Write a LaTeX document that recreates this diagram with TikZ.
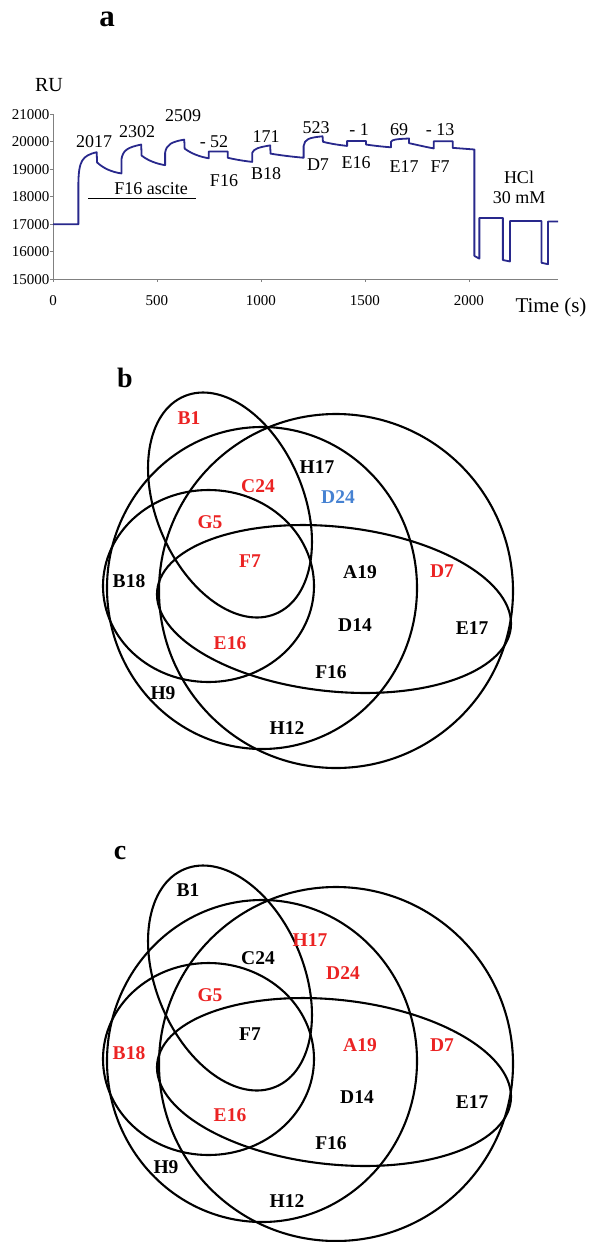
\documentclass[tikz,border=0pt]{standalone}
\usepackage{fontspec}
\setmainfont{Liberation Serif}
\usepackage{xcolor}
\definecolor{axisgray}{RGB}{128,128,128}
\definecolor{tracenavy}{RGB}{40,40,140}
\definecolor{vred}{RGB}{235,35,35}
\definecolor{vblue}{RGB}{70,130,210}

\begin{document}
\begin{tikzpicture}[x=1pt,y=-1pt,
  axis/.style={draw=axisgray,line width=0.8pt},
  trace/.style={draw=tracenavy,line width=1.8pt,line join=round},
  num/.style={font=\fontsize{18}{20}\selectfont,inner sep=0pt},
  tick/.style={font=\fontsize{15}{17}\selectfont,inner sep=0pt},
  venn/.style={draw,line width=2.1pt},
  vlab/.style={font=\bfseries\fontsize{19.5}{21}\selectfont,inner sep=0pt},
  panel/.style={font=\bfseries\fontsize{28}{30}\selectfont,inner sep=0pt}
]
  \useasboundingbox (0,0) rectangle (592,1242);

  % panel a: sensorgram
  \node[panel,font=\bfseries\fontsize{31}{33}\selectfont] (pa) at (107,19) {a};
  \node[font=\fontsize{20}{22}\selectfont,inner sep=0pt] (ru) at (49,85) {RU};
  \node[font=\fontsize{21}{23}\selectfont,inner sep=0pt] (time) at (551,307) {Time (s)};

  \begin{scope}[shift={(53,279.3)},x=0.208pt,y=27.5pt,shift={(0,-15)}]
    \draw[axis] (0,21) -- (0,15) -- (2430,15);
    \foreach \v in {15,...,21} {
      \draw[axis] (0,\v) -- ++(-3pt,0);
      \node[tick,anchor=east,xshift=-3.5pt] (yl\v) at (0,\v) {\v000};
    }
    \foreach \t in {0,500,...,2000} {
      \draw[axis] (\t,15) -- ++(0,-3pt);
      \node[tick,yshift=-21pt] (xl\t) at (\t,15) {\t};
    }
    \draw[trace] (0,17) -- (122,17) -- (122,18.5)
      .. controls (124,19.3) and (140,19.5) .. (210,19.62) -- (212,19.25)
      .. controls (240,19.05) and (280,18.9) .. (329,18.85)
      -- (329,19.35) .. controls (335,19.7) and (360,19.8) .. (424,19.9) -- (426,19.5)
      .. controls (460,19.3) and (500,19.2) .. (539,19.15)
      -- (539,19.6) .. controls (545,19.9) and (570,20.0) .. (631,20.08) -- (633,19.75)
      .. controls (670,19.55) and (710,19.45) .. (749,19.4)
      -- (749,19.65) -- (840,19.65) -- (840,19.42)
      .. controls (880,19.35) and (920,19.3) .. (958,19.27)
      -- (958,19.6) .. controls (965,19.75) and (990,19.8) .. (1044,19.87) -- (1046,19.57)
      .. controls (1100,19.5) and (1160,19.45) .. (1205,19.42)
      -- (1205,19.85) .. controls (1210,20.1) and (1230,20.15) .. (1296,20.2) -- (1298,20.0)
      .. controls (1340,19.92) and (1380,19.88) .. (1414,19.85)
      -- (1414,20.03) -- (1505,20.03) -- (1505,19.9)
      .. controls (1550,19.85) and (1590,19.82) .. (1625,19.8)
      -- (1625,20.0) .. controls (1630,20.08) and (1650,20.1) .. (1712,20.12) -- (1712,19.95)
      .. controls (1760,19.87) and (1800,19.8) .. (1831,19.76)
      -- (1831,20.02) -- (1922,20.02) -- (1922,19.78) -- (2026,19.72)
      -- (2026,15.85) -- (2050,15.75) -- (2050,17.23) -- (2163,17.23)
      -- (2163,15.7) -- (2197,15.65) -- (2197,17.12) -- (2349,17.12)
      -- (2349,15.6) -- (2380,15.55) -- (2380,17.1) -- (2428,17.1);
  \end{scope}

  \node[num] (n2017) at (94,142) {2017};
  \node[num] (n2302) at (137,132) {2302};
  \node[num] (n2509) at (183,116) {2509};
  \node[num] (n52) at (214,142) {- 52};
  \node[num] (n171) at (266,137) {171};
  \node[num] (n523) at (316,128) {523};
  \node[num] (n1) at (359,130) {- 1};
  \node[num] (n69) at (399,130) {69};
  \node[num] (n13) at (440,130) {- 13};

  \node[num] (ascite) at (151,189) {F16 ascite};
  \coordinate (asc-l) at (88,198);
  \coordinate (asc-r) at (196,198);
  \draw[line width=1pt] (asc-l) -- (asc-r);
  \node[num] (iF16) at (224,181) {F16};
  \node[num] (iB18) at (266,174) {B18};
  \node[num] (iD7) at (318,165) {D7};
  \node[num] (iE16) at (356,163) {E16};
  \node[num] (iE17) at (404,167) {E17};
  \node[num] (iF7) at (440,167) {F7};
  \node[num] (hcl) at (519,177) {HCl};
  \node[num] (hclc) at (519,198) {30 mM};

  % panels b and c: same five sets
  \foreach \dy in {0,473} {
    \begin{scope}[shift={(0,\dy)}]
      \draw[venn,shift={(230,505)},rotate=22.8] (0,0) ellipse [x radius=73.8,y radius=118];
      \draw[venn] (336,591) circle [radius=177];
      \draw[venn] (262,588) ellipse [x radius=155,y radius=161];
      \draw[venn] (208.5,586) ellipse [x radius=105.5,y radius=96];
      \draw[venn,shift={(334,609)},rotate=-6.05] (0,0) ellipse [x radius=177.8,y radius=82.3];
    \end{scope}
  }

  \node[panel] (pb) at (125,378) {b};
  \node[vlab,vred] (bB1) at (189,418) {B1};
  \node[vlab] (bH17) at (317,467) {H17};
  \node[vlab,vred] (bC24) at (258,486) {C24};
  \node[vlab,vblue] (bD24) at (338,497) {D24};
  \node[vlab,vred] (bG5) at (210,522) {G5};
  \node[vlab,vred] (bF7) at (250,561) {F7};
  \node[vlab] (bA19) at (360,572) {A19};
  \node[vlab,vred] (bD7) at (442,571) {D7};
  \node[vlab] (bB18) at (129,581) {B18};
  \node[vlab] (bD14) at (355,625) {D14};
  \node[vlab] (bE17) at (472,628) {E17};
  \node[vlab,vred] (bE16) at (230,643) {E16};
  \node[vlab] (bF16) at (331,672) {F16};
  \node[vlab] (bH9) at (163,693) {H9};
  \node[vlab] (bH12) at (287,728) {H12};

  \node[panel] (pc) at (120,853) {c};
  \node[vlab] (cB1) at (188,890) {B1};
  \node[vlab,vred] (cH17) at (310,940) {H17};
  \node[vlab] (cC24) at (258,958) {C24};
  \node[vlab,vred] (cD24) at (343,973) {D24};
  \node[vlab,vred] (cG5) at (210,995) {G5};
  \node[vlab] (cF7) at (250,1034) {F7};
  \node[vlab,vred] (cA19) at (360,1045) {A19};
  \node[vlab,vred] (cD7) at (442,1045) {D7};
  \node[vlab,vred] (cB18) at (129,1053) {B18};
  \node[vlab] (cD14) at (357,1097) {D14};
  \node[vlab] (cE17) at (472,1102) {E17};
  \node[vlab,vred] (cE16) at (230,1115) {E16};
  \node[vlab] (cF16) at (331,1143) {F16};
  \node[vlab] (cH9) at (166,1167) {H9};
  \node[vlab] (cH12) at (287,1201) {H12};
\end{tikzpicture}
\end{document}
